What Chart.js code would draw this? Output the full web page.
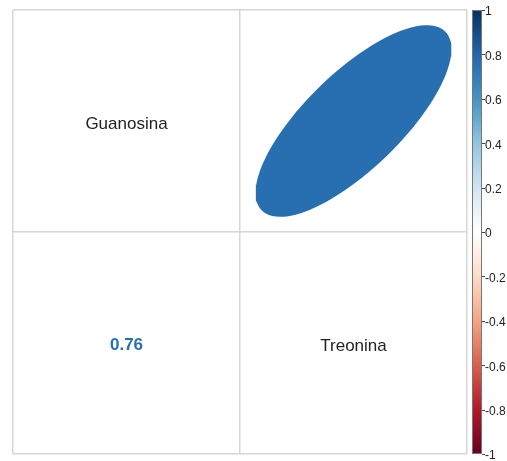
<!DOCTYPE html>
<html>
<head>
<meta charset="utf-8">
<script src="https://cdn.jsdelivr.net/npm/chart.js@4"></script>
<style>
  html, body { margin: 0; padding: 0; background: #fff; }
  canvas { display: block; }
</style>
</head>
<body>
<canvas id="corr" width="507" height="461"></canvas>
<script>
const variables = ['Guanosina', 'Treonina'];
const corrRow1 = [1, 0.76];
const corrRow2 = [0.76, 1];
const legendTicks = [-1, -0.8, -0.6, -0.4, -0.2, 0, 0.2, 0.4, 0.6, 0.8, 1];

// RdBu diverging palette, from -1 to 1
const palette = ['#67001F', '#B2182B', '#D6604D', '#F4A582', '#FDDBC7', '#FFFFFF',
  '#D1E5F0', '#92C5DE', '#4393C3', '#2166AC', '#053061'];

const corr = [corrRow1, corrRow2];
const n = variables.length;

function hexToRgb(h) {
  return [1, 3, 5].map(i => parseInt(h.substr(i, 2), 16));
}

function colorFor(r) {
  const pos = (r + 1) / 2 * (palette.length - 1);
  const i = Math.min(Math.floor(pos), palette.length - 2);
  const t = pos - i;
  const a = hexToRgb(palette[i]);
  const b = hexToRgb(palette[i + 1]);
  const c = a.map((v, k) => Math.round(v + (b[k] - v) * t));
  return `rgb(${c[0]},${c[1]},${c[2]})`;
}

// ellipse outline for a correlation, same construction as corrplot
function ellipse(rho, cx, cy) {
  const d = Math.acos(rho) / 2;
  const pts = [];
  for (let i = 0; i <= 99; i++) {
    const k = i / 99 * 2 * Math.PI;
    pts.push({ x: cx + 0.85 * Math.cos(k + d) / 2, y: cy + 0.85 * Math.cos(k - d) / 2 });
  }
  return pts;
}

// upper triangle -> ellipses; lower -> numbers; diagonal -> names
const datasets = [];
const numbers = [];
const names = [];
for (let i = 0; i < n; i++) {
  for (let j = 0; j < n; j++) {
    const cx = j + 1;
    const cy = n - i;
    if (i === j) {
      names.push({ x: cx, y: cy, text: variables[i] });
    } else if (j > i) {
      const col = colorFor(corr[i][j]);
      datasets.push({
        data: ellipse(corr[i][j], cx, cy),
        showLine: true,
        fill: 'shape',
        backgroundColor: col,
        borderColor: col,
        borderWidth: 3,
        pointRadius: 0,
      });
    } else {
      numbers.push({ x: cx, y: cy, text: corr[i][j].toFixed(2), color: colorFor(corr[i][j]) });
    }
  }
}

const cellLabels = {
  id: 'cellLabels',
  afterDatasetsDraw(chart) {
    const { ctx, scales: { x, y } } = chart;
    ctx.save();
    ctx.textAlign = 'center';
    ctx.textBaseline = 'middle';
    ctx.fillStyle = '#222';
    ctx.font = '17px "Liberation Sans", Arial, sans-serif';
    names.forEach(l => ctx.fillText(l.text, x.getPixelForValue(l.x), y.getPixelForValue(l.y) + 3));
    ctx.font = 'bold 17px "Liberation Sans", Arial, sans-serif';
    numbers.forEach(l => {
      ctx.fillStyle = l.color;
      ctx.fillText(l.text, x.getPixelForValue(l.x), y.getPixelForValue(l.y) + 2);
    });
    ctx.restore();
  },
};

const colorBar = {
  id: 'colorBar',
  afterDraw(chart) {
    const { ctx } = chart;
    const cb = chart.scales.cb;
    const left = chart.chartArea.right + 5;
    const w = 10;
    const top = cb.getPixelForValue(1);
    const bottom = cb.getPixelForValue(-1);
    const grad = ctx.createLinearGradient(0, bottom, 0, top);
    palette.forEach((c, i) => grad.addColorStop(i / (palette.length - 1), c));
    ctx.save();
    ctx.fillStyle = grad;
    ctx.fillRect(left, top, w, bottom - top);
    ctx.strokeStyle = '#777';
    ctx.lineWidth = 1;
    ctx.strokeRect(left + 0.5, top + 0.5, w - 1, bottom - top - 1);
    ctx.strokeStyle = '#444';
    legendTicks.forEach(v => {
      const py = Math.round(cb.getPixelForValue(v)) + 0.5;
      ctx.beginPath();
      ctx.moveTo(left + w, py);
      ctx.lineTo(left + w + 3, py);
      ctx.stroke();
    });
    ctx.restore();
  },
};

const cellEdges = scale => {
  scale.ticks = [];
  for (let v = 0.5; v <= n + 0.5; v++) scale.ticks.push({ value: v });
};

new Chart(document.getElementById('corr'), {
  type: 'scatter',
  data: { datasets },
  options: {
    responsive: false,
    animation: false,
    layout: { padding: { left: 13, top: 10, bottom: 7, right: 0 } },
    plugins: { legend: { display: false }, tooltip: { enabled: false } },
    scales: {
      x: {
        min: 0.5, max: n + 0.5,
        afterBuildTicks: cellEdges,
        border: { display: false },
        grid: { color: '#d6d6d6', lineWidth: 1.5, drawTicks: false },
        ticks: { display: false },
      },
      y: {
        min: 0.5, max: n + 0.5,
        afterBuildTicks: cellEdges,
        border: { display: false },
        grid: { color: '#d6d6d6', lineWidth: 1.5, drawTicks: false },
        ticks: { display: false },
      },
      cb: {
        position: 'right',
        min: -1, max: 1,
        afterBuildTicks: s => { s.ticks = legendTicks.map(v => ({ value: v })); },
        afterFit: s => {
          s.width = 40;
          s.paddingTop = 0;
          s.paddingBottom = 0;
        },
        border: { display: false },
        grid: { display: false, drawTicks: false },
        ticks: {
          padding: 18,
          labelOffset: 2,
          color: '#222',
          font: { size: 12, family: '"Liberation Sans", Arial, sans-serif' },
          callback: v => String(+v.toFixed(1)),
        },
      },
    },
  },
  plugins: [cellLabels, colorBar],
});
</script>
</body>
</html>
